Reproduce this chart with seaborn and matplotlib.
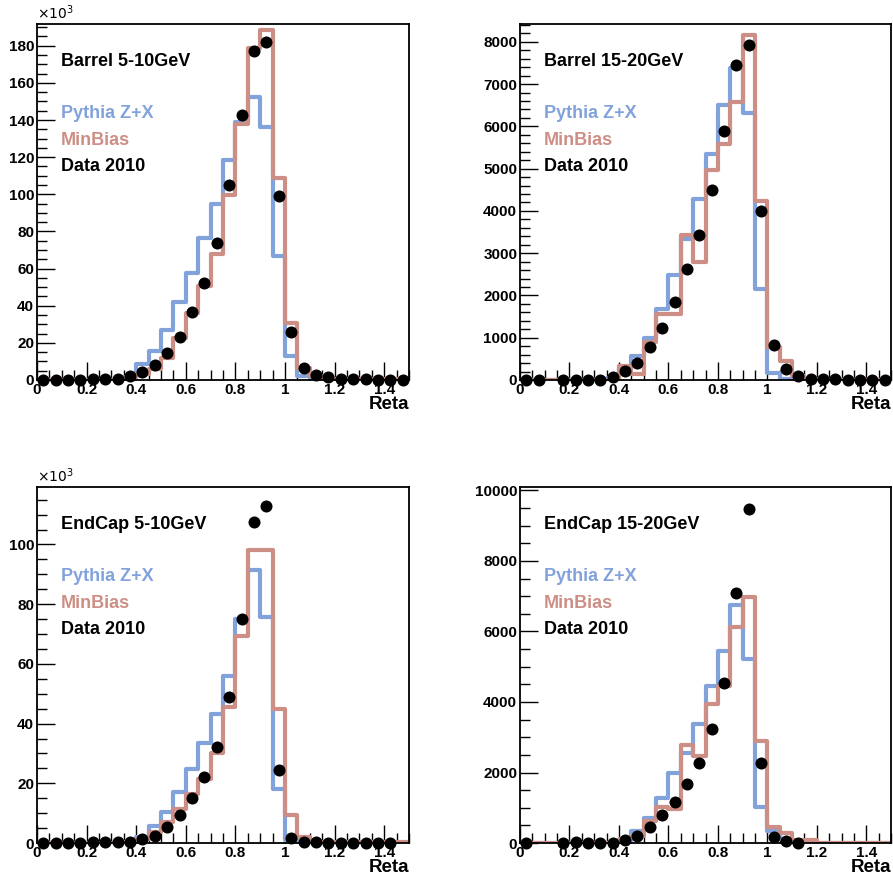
import numpy as np
import pandas as pd
import seaborn as sns
import matplotlib.pyplot as plt
import matplotlib.ticker as mtick

# bins: 30 bins of 0.05 from 0 to 1.5
bin_edges = [round(0.05 * i, 2) for i in range(31)]
bin_centers = [round(0.05 * i + 0.025, 3) for i in range(30)]

nan = np.nan

# Barrel 5-10GeV (x10^3)
pythia_b510 = [0, 0, 0, 0, 0, 0, 0, 1.5, 8.6, 15.8, 27, 41.8, 57.5, 76.7, 95, 118.5,
               139, 152.6, 136, 67, 13, 2, 0.3, 0.2, 0.1, 0.1, 0.1, 0.1, 0.1, 0.1]
minbias_b510 = [0, 0, 0, 0, 0, 0, 0, 0.5, 3, 5.7, 11.7, 22.4, 36, 50.6, 68, 99.6,
                138, 178.6, 188.5, 109, 30.5, 6.6, 2, 0.5, 0.5, 0.4, 0.4, 0.3, 0.3, 0.3]
data_b510 = [0, 0, 0, 0, 0.3, 0.3, 0.3, 2, 4.5, 8, 14.7, 23, 36.5, 52, 73.6, 105,
             142.7, 177.4, 181.9, 99, 26, 6.6, 2.7, 1.4, 0.5, 0.3, 0.3, 0.2, 0.1, 0.1]

# Barrel 15-20GeV
pythia_b1520 = [0, 0, 0, 0, 0, 0, 0, 50, 290, 570, 1000, 1680, 2480, 3340, 4270, 5350,
                6500, 7370, 6320, 2150, 175, 30, 0, 0, 0, 0, 0, 0, 0, 0]
minbias_b1520 = [0, 0, 0, 0, 0, 0, 0, 0, 330, 135, 910, 1560, 1560, 3440, 2800, 4970,
                 5590, 6580, 8160, 4245, 770, 450, 95, 20, 5, 5, 5, 5, 5, 5]
data_b1520 = [0, 0, nan, 0, 5, 5, 10, 80, 210, 400, 770, 1230, 1850, 2620, 3420, 4500,
              5900, 7450, 7920, 3990, 820, 250, 95, 30, 20, 15, 10, 5, 5, 5]

# EndCap 5-10GeV (x10^3)
pythia_e510 = [0, 0, 0, 0, 0, 0, 0, 0.3, 1.9, 5.8, 10.5, 17.2, 24.8, 33.4, 43.2, 56,
               75, 91.3, 75.6, 18.1, 1.0, 0.2, 0.1, 0.1, 0.1, 0.1, 0.1, 0.1, 0.1, 0.1]
minbias_e510 = [0, 0, 0, 0, 0, 0, 0, 0.3, 1.5, 3.6, 6.9, 11.4, 16.4, 21.5, 30, 45.7,
                69.2, 98.2, 98.2, 45, 9.5, 2.1, 0.4, 0.4, 0.4, 0.4, 0.4, 0.4, 0.4, 0.4]
data_e510 = [0.1, 0, 0, 0, 0.2, 0.2, 0.2, 0.3, 1.3, 2.5, 5.3, 9.4, 15, 22.2, 32.3, 49,
             75, 107.5, 113, 24.6, 1.6, 0.5, 0.2, 0.1, 0.1, 0.1, 0.1, 0.1, 0.1, nan]

# EndCap 15-20GeV
pythia_e1520 = [0, 0, 0, 0, 0, 0, 0, 0, 50, 350, 710, 1270, 2000, 2545, 3380, 4440,
                5440, 6740, 5220, 1010, 350, 110, 30, 30, 0, 0, 0, 0, 0, 0]
minbias_e1520 = [0, 0, 0, 0, 0, 0, 0, 0, 110, 210, 630, 1010, 965, 2790, 2480, 3945,
                 4465, 6140, 6970, 2885, 445, 275, 95, 95, 10, 10, 10, 10, 10, 10]
data_e1520 = [0, nan, nan, 0, 20, 5, 5, 5, 95, 190, 445, 795, 1175, 1675, 2260, 3235,
              4530, 7085, 9480, 2260, 160, 50, 0, nan, nan, nan, nan, nan, nan, nan]

panels = [
    ("Barrel 5-10GeV", pythia_b510, minbias_b510, data_b510, 191.7, 20, 5, True),
    ("Barrel 15-20GeV", pythia_b1520, minbias_b1520, data_b1520, 8420, 1000, 200, False),
    ("EndCap 5-10GeV", pythia_e510, minbias_e510, data_e510, 119.2, 20, 5, True),
    ("EndCap 15-20GeV", pythia_e1520, minbias_e1520, data_e1520, 10095, 2000, 500, False),
]

blue = "#82a2dc"
red = "#cd8e85"

sns.set_style("white")
plt.rcParams['font.family'] = ['Liberation Sans', 'DejaVu Sans']
plt.rcParams['text.color'] = 'black'
plt.rcParams['xtick.color'] = 'black'
plt.rcParams['ytick.color'] = 'black'
plt.rcParams['axes.labelcolor'] = 'black'

fig = plt.figure(figsize=(8.93, 8.81), dpi=100)
positions = [
    [0.0414, 0.5687, 0.4166, 0.404],
    [0.5823, 0.5687, 0.4155, 0.404],
    [0.0414, 0.0431, 0.4166, 0.404],
    [0.5823, 0.0431, 0.4155, 0.404],
]

for pos, (title, pythia, minbias, data, ymax, ymaj, ymin, x1e3) in zip(positions, panels):
    ax = fig.add_axes(pos)
    df = pd.DataFrame({"reta": bin_centers, "pythia": pythia,
                       "minbias": minbias, "data": data})

    sns.histplot(data=df, x="reta", weights="pythia", bins=bin_edges, element="step",
                 fill=False, color=blue, linewidth=3, ax=ax)
    sns.histplot(data=df, x="reta", weights="minbias", bins=bin_edges, element="step",
                 fill=False, color=red, linewidth=3, ax=ax)
    sns.scatterplot(data=df, x="reta", y="data", color="black", s=75,
                    linewidth=0, zorder=5, clip_on=False, ax=ax)

    ax.set_xlim(0, 1.5)
    ax.set_ylim(0, ymax)
    ax.set_xlabel("")
    ax.set_ylabel("")

    ax.xaxis.set_major_locator(mtick.MultipleLocator(0.2))
    ax.xaxis.set_minor_locator(mtick.MultipleLocator(0.05))
    ax.xaxis.set_major_formatter(mtick.FuncFormatter(lambda v, p: f"{v:g}"))
    ax.yaxis.set_major_locator(mtick.MultipleLocator(ymaj))
    ax.yaxis.set_minor_locator(mtick.MultipleLocator(ymin))
    ax.yaxis.set_major_formatter(mtick.FuncFormatter(lambda v, p: f"{v:g}"))

    ax.tick_params(axis="both", which="major", direction="in", length=13, width=1,
                   labelsize=11, pad=2, left=True, bottom=True, colors="black")
    ax.tick_params(axis="both", which="minor", direction="in", length=7, width=1,
                   left=True, bottom=True, colors="black")
    for lab in ax.get_xticklabels() + ax.get_yticklabels():
        lab.set_fontweight("bold")

    for sp in ax.spines.values():
        sp.set_visible(True)
        sp.set_color("black")
        sp.set_linewidth(1.3)

    ax.text(0.065, 0.896, title, transform=ax.transAxes, fontsize=13,
            fontweight="bold", color="black", va="center", ha="left")
    ax.text(0.065, 0.75, "Pythia Z+X", transform=ax.transAxes, fontsize=13,
            fontweight="bold", color=blue, va="center", ha="left")
    ax.text(0.065, 0.674, "MinBias", transform=ax.transAxes, fontsize=13,
            fontweight="bold", color=red, va="center", ha="left")
    ax.text(0.065, 0.60, "Data 2010", transform=ax.transAxes, fontsize=13,
            fontweight="bold", color="black", va="center", ha="left")

    ax.text(1.0, -0.07, "Reta", transform=ax.transAxes, fontsize=13.5,
            fontweight="bold", color="black", va="center", ha="right")
    if x1e3:
        ax.text(0.0, 1.005, r"$\times10^{3}$", transform=ax.transAxes, fontsize=10,
                color="black", va="bottom", ha="left")

fig.savefig("out.png", dpi=100)
